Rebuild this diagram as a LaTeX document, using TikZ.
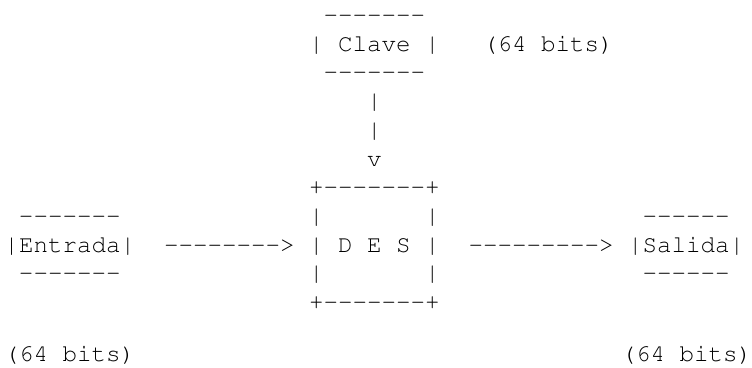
\documentclass[tikz,border=0pt]{standalone}
\usepackage[T1]{fontenc}
\renewcommand{\ttdefault}{pcr}

\tikzset{
	ascii/.style = {anchor = base west, inner sep = 0pt, outer sep = 0pt,
		font = \ttfamily\fontsize{24.2pt}{28.7pt}\selectfont}
}

\begin{document}
\begin{tikzpicture}[x = 14.5pt, y = -28.7pt]
	 \useasboundingbox (-4.5pt, 22.5pt) rectangle (747.5pt, -344.5pt);
	 
	 % key on top
	 \node[ascii] (clavetop) at (22, 0) {-{}-{}-{}-{}-{}-{}-};
	 \node[ascii] (clave) at (21, 1) {| Clave |};
	 \node[ascii] (clavebits) at (33, 1) {(64 bits)};
	 \node[ascii] (clavebot) at (22, 2) {-{}-{}-{}-{}-{}-{}-};
	 \foreach \r/\s in {3/|, 4/|, 5/v}
	 \node[ascii] (keyline\r) at (25, \r) {\s};
	 
	 % DES block
	 \node[ascii] (destop) at (21, 6) {+-{}-{}-{}-{}-{}-{}-+};
	 \foreach \r in {7, 9}
	 {
	 \node[ascii] (desleft\r) at (21, \r) {|};
	 \node[ascii] (desright\r) at (29, \r) {|};
	 }
	 \node[ascii] (des) at (21, 8) {| D E S |};
	 \node[ascii] (desbot) at (21, 10) {+-{}-{}-{}-{}-{}-{}-+};
	 
	 % input
	 \node[ascii] (entradatop) at (1, 7) {-{}-{}-{}-{}-{}-{}-};
	 \node[ascii] (entrada) at (0, 8) {|Entrada|};
	 \node[ascii] (entradabot) at (1, 9) {-{}-{}-{}-{}-{}-{}-};
	 \node[ascii] (entradabits) at (0, 11.82) {(64 bits)};
	 \node[ascii] (inarrow) at (11, 8) {-{}-{}-{}-{}-{}-{}-{}->};
	 
	 % output
	 \node[ascii] (outarrow) at (32, 8) {-{}-{}-{}-{}-{}-{}-{}-{}->};
	 \node[ascii] (salidatop) at (44, 7) {-{}-{}-{}-{}-{}-};
	 \node[ascii] (salida) at (43, 8) {|Salida|};
	 \node[ascii] (salidabot) at (44, 9) {-{}-{}-{}-{}-{}-};
	 \node[ascii] (salidabits) at (42.55, 11.82) {(64 bits)};
\end{tikzpicture}
\end{document}
